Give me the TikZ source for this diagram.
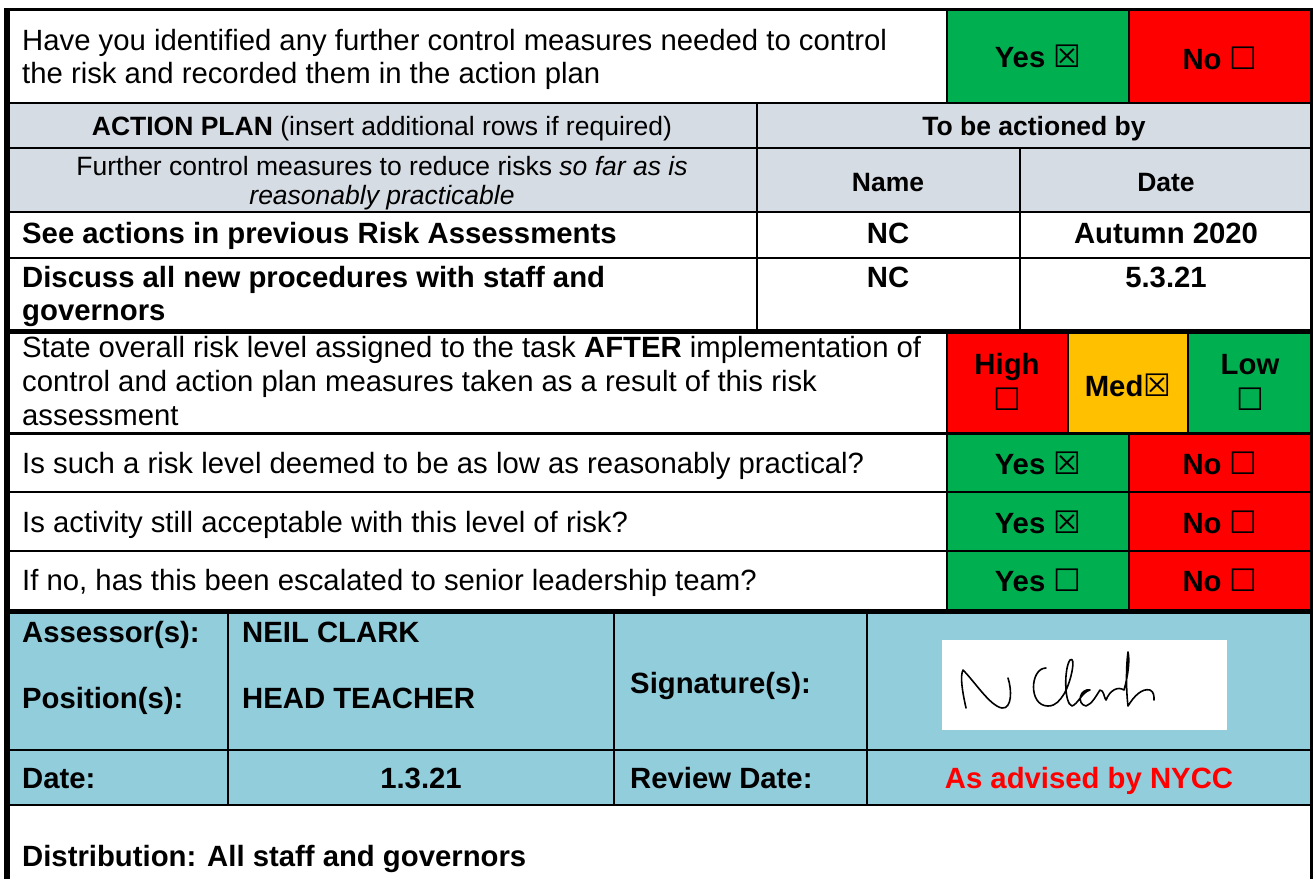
\documentclass[tikz,border=0pt]{standalone}
\usepackage{fontspec}
\setmainfont{Liberation Sans}
\newfontfamily\boxfont{DejaVu Sans}
\usepackage{tikz}
\usetikzlibrary{positioning}

\definecolor{okgreen}{HTML}{00B050}
\definecolor{badred}{HTML}{FF0000}
\definecolor{medamber}{HTML}{FFC000}
\definecolor{headgrey}{HTML}{D6DCE4}
\definecolor{signblue}{HTML}{92CDDC}

\newcommand{\bodyfont}{\fontsize{29.3pt}{34pt}\selectfont}
\newcommand{\tabfont}{\fontsize{26.5pt}{30pt}\selectfont}
\newcommand{\boxon}{{\boxfont\fontsize{31pt}{34pt}\selectfont ☒}}
\newcommand{\boxoff}{{\boxfont\fontsize{31pt}{34pt}\selectfont ☐}}

\tikzset{
	txt/.style={anchor=base west, inner sep=0pt},
	ctxt/.style={anchor=base, inner sep=0pt},
	thinrule/.style={line width=1.5pt},
	midrule/.style={line width=2.2pt},
	thickrule/.style={line width=5pt}
}

\begin{document}
\begin{tikzpicture}[x=1pt, y=-1pt, font=\bodyfont]
		\useasboundingbox (0,0) rectangle (1314,879);
		% Cell fills:
		\fill[okgreen] (947,9) rectangle (1129,103);
		\fill[badred] (1129,9) rectangle (1311,103);
		\fill[headgrey] (7,103) rectangle (1311,212);
		\fill[badred] (947,330) rectangle (1068,433);
		\fill[medamber] (1068,330) rectangle (1188,433);
		\fill[okgreen] (1188,330) rectangle (1311,433);
		\foreach \top/\bot in {433/492, 492/551, 551/611}{
			\fill[okgreen] (947,\top) rectangle (1129,\bot);
			\fill[badred] (1129,\top) rectangle (1311,\bot);
		}
		\fill[signblue] (7,611) rectangle (1311,805);
		\fill[white] (942,640) rectangle (1227,730);

		% Rules:
		\draw[line width=3pt] (4,9.5) -- (1313,9.5);
		\foreach \y in {103,148,258}{
			\draw[midrule] (7,\y) -- (1311,\y);
		}
		\foreach \y in {212,492,551}{
			\draw[thinrule] (7,\y) -- (1311,\y);
		}
		\draw[line width=3pt] (7,433) -- (1311,433);
		\draw[thickrule] (7,331) -- (1311,331);
		\draw[thickrule] (7,611) -- (1311,611);
		\draw[midrule] (7,750) -- (1311,750);
		\draw[line width=2.6pt] (7,805) -- (1311,805);
		\draw[line width=6pt] (7,8) -- (7,879);
		\draw[line width=3pt] (1311.5,8) -- (1311.5,879);
		\draw[midrule] (947,9) -- (947,103);
		\draw[midrule] (1129,9) -- (1129,103);
		\draw[thinrule] (757,103) -- (757,331);
		\draw[thinrule] (1020,148) -- (1020,331);
		\draw[midrule] (947,331) -- (947,611);
		\draw[midrule] (1068,331) -- (1068,433);
		\draw[midrule] (1188,331) -- (1188,433);
		\draw[midrule] (1129,433) -- (1129,611);
		\foreach \x in {228,614,867}{
			\draw[midrule] (\x,611) -- (\x,805);
		}

		% Texts:
		\node[txt] (q1a) at (22,50) {Have you identified any further control measures needed to control};
		\node[txt] (q1b) at (22,83) {the risk and recorded them in the action plan};
		\node[ctxt] (yes1) at (1038,67) {\bfseries Yes \boxon};
		\node[ctxt] (no1) at (1220,69) {\bfseries No \boxoff};
		\node[ctxt, font=\tabfont] (plan) at (382,135) {\bfseries ACTION PLAN\mdseries{} (insert additional rows if required)};
		\node[ctxt, font=\tabfont] (byhead) at (1034,135) {\bfseries To be actioned by};
		\node[ctxt, font=\tabfont] (measa) at (382,175) {Further control measures to reduce risks \itshape so far as is};
		\node[ctxt, font=\tabfont] (measb) at (382,204) {\itshape reasonably practicable};
		\node[ctxt, font=\tabfont] (namehead) at (888,191) {\bfseries Name};
		\node[ctxt, font=\tabfont] (datehead) at (1166,191) {\bfseries Date};
		\node[txt] (act1) at (22,243) {\bfseries See actions in previous Risk Assessments};
		\node[ctxt] (who1) at (888,243) {\bfseries NC};
		\node[ctxt] (when1) at (1166,243) {\bfseries Autumn 2020};
		\node[txt] (act2a) at (22,287) {\bfseries Discuss all new procedures with staff and};
		\node[txt] (act2b) at (22,320) {\bfseries governors};
		\node[ctxt] (who2) at (888,287) {\bfseries NC};
		\node[ctxt] (when2) at (1166,287) {\bfseries 5.3.21};
		\node[txt] (lvla) at (22,357) {State overall risk level assigned to the task \textbf{AFTER} implementation of};
		\node[txt] (lvlb) at (22,391) {control and action plan measures taken as a result of this risk};
		\node[txt] (lvlc) at (22,425) {assessment};
		\node[ctxt] (high) at (1007,374) {\bfseries High};
		\node[ctxt] (highbox) at (1007,410) {\boxoff};
		\node[ctxt] (med) at (1128,396) {\bfseries Med\boxon};
		\node[ctxt] (low) at (1250,374) {\bfseries Low};
		\node[ctxt] (lowbox) at (1250,410) {\boxoff};
		\node[txt] (q2) at (22,473) {Is such a risk level deemed to be as low as reasonably practical?};
		\node[ctxt] (yes2) at (1038,474) {\bfseries Yes \boxon};
		\node[ctxt] (no2) at (1220,474) {\bfseries No \boxoff};
		\node[txt] (q3) at (22,532) {Is activity still acceptable with this level of risk?};
		\node[ctxt] (yes3) at (1038,533) {\bfseries Yes \boxon};
		\node[ctxt] (no3) at (1220,533) {\bfseries No \boxoff};
		\node[txt] (q4) at (22,590) {If no, has this been escalated to senior leadership team?};
		\node[ctxt] (yes4) at (1038,591) {\bfseries Yes \boxoff};
		\node[ctxt] (no4) at (1220,591) {\bfseries No \boxoff};
		\node[txt] (assessor) at (22,642) {\bfseries Assessor(s):};
		\node[txt] (position) at (22,708) {\bfseries Position(s):};
		\node[txt] (who) at (242,642) {\bfseries NEIL CLARK};
		\node[txt] (role) at (242,708) {\bfseries HEAD TEACHER};
		\node[txt] (sign) at (630,693) {\bfseries Signature(s):};
		\node[txt] (date) at (22,788) {\bfseries Date:};
		\node[ctxt] (dateval) at (421,788) {\bfseries 1.3.21};
		\node[txt] (review) at (630,788) {\bfseries Review Date:};
		\node[ctxt, text=badred] (reviewval) at (1089,788) {\bfseries As advised by NYCC};
		\node[txt] (distrib) at (22,866) {\bfseries Distribution: All staff and governors};

		% Signature:
		\draw[line width=1.6pt, line cap=round, line join=round] (966,708) .. controls (962,690) and (960,676) .. (963,670) .. controls (975,682) and (990,706) .. (1002,708) .. controls (1012,709) and (1012,690) .. (1008,678);
		\draw[line width=1.6pt, line cap=round, line join=round] (1046,668) .. controls (1030,668) and (1028,706) .. (1048,706) .. controls (1056,706) and (1060,700) .. (1064,694) .. controls (1072,680) and (1076,655) .. (1070,660) .. controls (1064,668) and (1064,704) .. (1072,706) .. controls (1078,704) and (1082,692) .. (1090,690) .. controls (1080,688) and (1076,704) .. (1086,706) .. controls (1092,704) and (1096,696) .. (1100,690) .. controls (1104,690) and (1104,698) .. (1106,700) .. controls (1110,690) and (1118,686) .. (1124,690) .. controls (1128,676) and (1130,660) .. (1128,652) .. controls (1126,666) and (1126,690) .. (1128,706) .. controls (1134,696) and (1142,688) .. (1150,690) .. controls (1154,692) and (1154,696) .. (1154,700);
	\end{tikzpicture}
\end{document}
